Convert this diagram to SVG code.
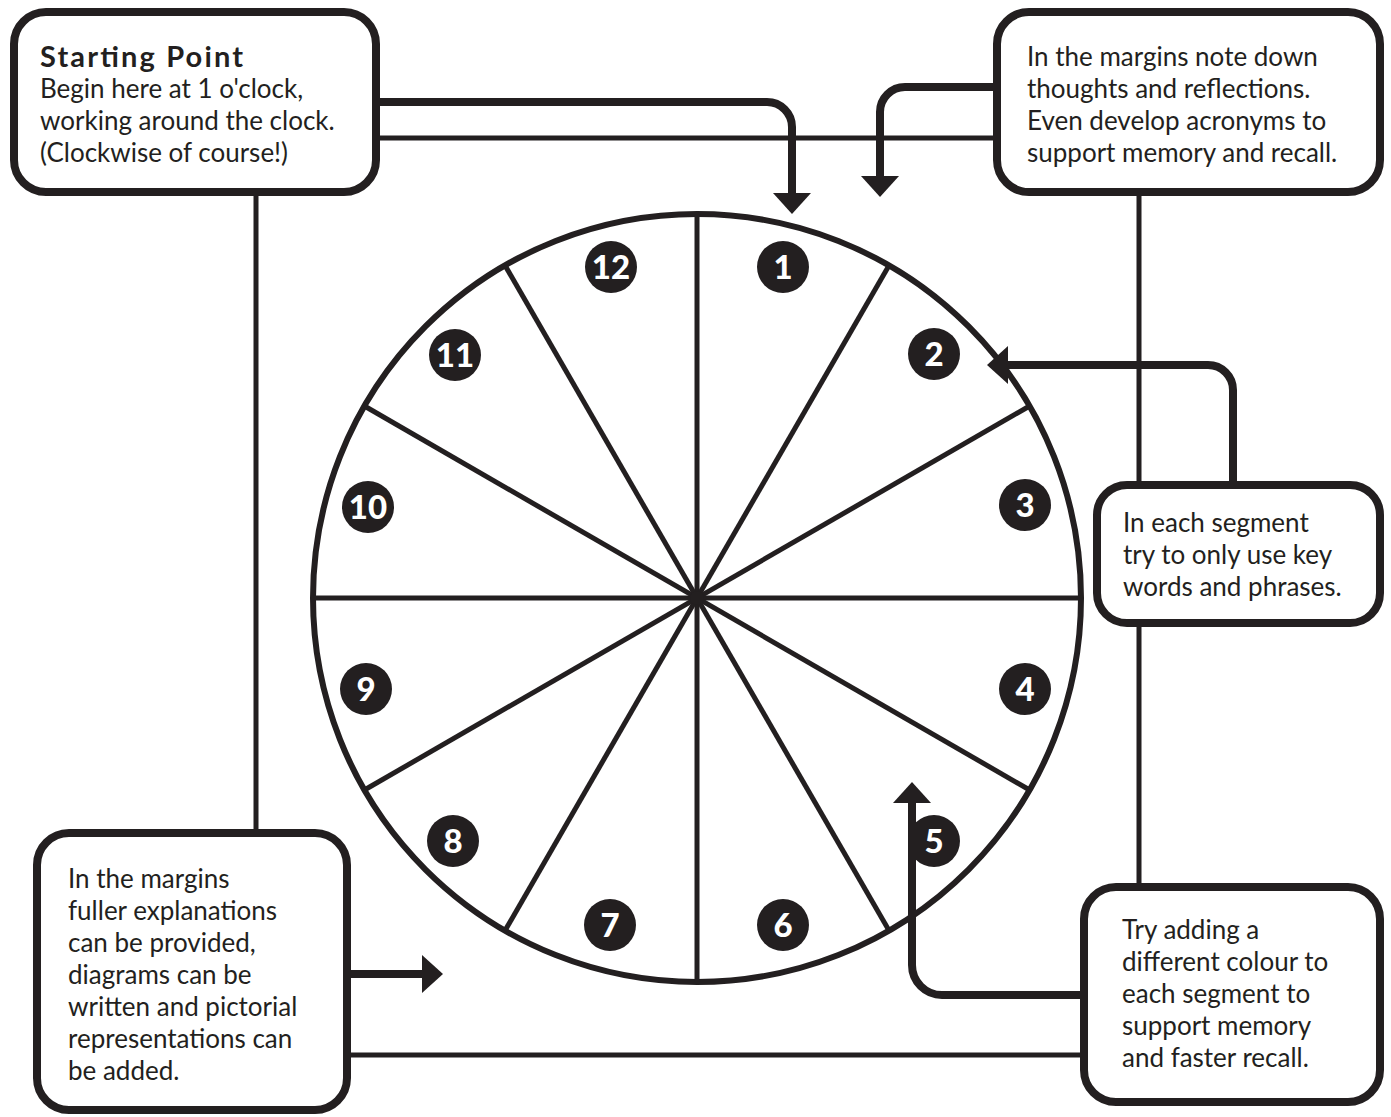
<svg xmlns="http://www.w3.org/2000/svg" width="1391" height="1117" viewBox="0 0 1391 1117">
<defs>
<style>
.ink{stroke:#231f20;fill:none}
.thick{stroke-width:8}
.thin{stroke-width:5}
.box{fill:#fff;stroke:#231f20;stroke-width:8}
.txt{font-family:Lato,"Open Sans",sans-serif;font-size:26px;fill:#231f20}
.bold{font-weight:bold;font-size:29px}
.badge circle{fill:#231f20}
.badge text{font-family:Lato,"Open Sans",sans-serif;font-weight:900;font-size:33px;fill:#fff;text-anchor:middle}
</style>
<marker id="ah" markerUnits="userSpaceOnUse" viewBox="0 0 21 38" refX="1" refY="19" markerWidth="21" markerHeight="38" orient="auto">
<path d="M0,0 L21,19 L0,38 Z" fill="#231f20"/>
</marker>
</defs>
<rect width="1391" height="1117" fill="#fff"/>
<g id="clock">
<circle cx="697" cy="598" r="384" class="ink" stroke-width="6"/>
<g class="ink" stroke-width="5">
<line x1="697" y1="214" x2="697" y2="982"/>
<line x1="889" y1="265.4" x2="505" y2="930.6"/>
<line x1="1029.6" y1="406" x2="364.4" y2="790"/>
<line x1="313" y1="598" x2="1081" y2="598"/>
<line x1="1029.6" y1="790" x2="364.4" y2="406"/>
<line x1="889" y1="930.6" x2="505" y2="265.4"/>
</g>
<circle cx="697" cy="598" r="7" fill="#231f20"/>
</g>
<g id="badges" class="badge">
<g id="n1"><circle cx="783" cy="267" r="26"/><text x="783" y="279">1</text></g>
<g id="n2"><circle cx="934" cy="354" r="26"/><text x="934" y="366">2</text></g>
<g id="n3"><circle cx="1025" cy="505" r="26"/><text x="1025" y="517">3</text></g>
<g id="n4"><circle cx="1025" cy="689" r="26"/><text x="1025" y="701">4</text></g>
<g id="n5"><circle cx="934" cy="841" r="26"/><text x="934" y="853">5</text></g>
<g id="n6"><circle cx="783" cy="925" r="26"/><text x="783" y="937">6</text></g>
<g id="n7"><circle cx="610" cy="925" r="26"/><text x="610" y="937">7</text></g>
<g id="n8"><circle cx="453" cy="841" r="26"/><text x="453" y="853">8</text></g>
<g id="n9"><circle cx="366" cy="689" r="26"/><text x="366" y="701">9</text></g>
<g id="n10"><circle cx="368" cy="507" r="26"/><text x="368" y="519">10</text></g>
<g id="n11"><circle cx="455" cy="355" r="26"/><text x="455" y="367">11</text></g>
<g id="n12"><circle cx="611" cy="267" r="26"/><text x="611" y="279">12</text></g>
</g>
<g id="connectors">
<g class="ink thin">
<path d="M380,138 H993"/>
<path d="M256,196 V829"/>
<path d="M1139,196 V883"/>
<path d="M351,1055 H1080"/>
</g>
<g class="ink thick">
<path d="M380,102 H767 A25,25 0 0 1 792,127 V194" marker-end="url(#ah)"/>
<path d="M993,87 H905 A25,25 0 0 0 880,112 V177" marker-end="url(#ah)"/>
<path d="M1233,481 V390 A25,25 0 0 0 1208,365 H1007" marker-end="url(#ah)"/>
<path d="M1080,995 H942 A30,30 0 0 1 912,965 V802" marker-end="url(#ah)"/>
<path d="M351,974 H423" marker-end="url(#ah)"/>
</g>
</g>
<g id="start-box">
<rect x="14" y="12" width="362" height="180" rx="32" class="box"/>
<text class="txt bold" x="40" y="67" textLength="203" lengthAdjust="spacing">Starting Point</text>
<text class="txt" x="40" y="98">Begin here at 1 o'clock,</text>
<text class="txt" x="40" y="130">working around the clock.</text>
<text class="txt" x="40" y="162">(Clockwise of course!)</text>
</g>
<g id="margins-notes-box">
<rect x="997" y="12" width="383" height="180" rx="32" class="box"/>
<text class="txt" x="1027" y="66">In the margins note down</text>
<text class="txt" x="1027" y="98">thoughts and reflections.</text>
<text class="txt" x="1027" y="130">Even develop acronyms to</text>
<text class="txt" x="1027" y="162">support memory and recall.</text>
</g>
<g id="segment-box">
<rect x="1097" y="485" width="283" height="138" rx="30" class="box"/>
<text class="txt" x="1123" y="532">In each segment</text>
<text class="txt" x="1123" y="564">try to only use key</text>
<text class="txt" x="1123" y="596">words and phrases.</text>
</g>
<g id="colour-box">
<rect x="1084" y="887" width="296" height="215" rx="32" class="box"/>
<text class="txt" x="1122" y="939">Try adding a</text>
<text class="txt" x="1122" y="971">different colour to</text>
<text class="txt" x="1122" y="1003">each segment to</text>
<text class="txt" x="1122" y="1035">support memory</text>
<text class="txt" x="1122" y="1067">and faster recall.</text>
</g>
<g id="explanations-box">
<rect x="37" y="833" width="310" height="277" rx="32" class="box"/>
<text class="txt" x="68" y="888">In the margins</text>
<text class="txt" x="68" y="920">fuller explanations</text>
<text class="txt" x="68" y="952">can be provided,</text>
<text class="txt" x="68" y="984">diagrams can be</text>
<text class="txt" x="68" y="1016">written and pictorial</text>
<text class="txt" x="68" y="1048">representations can</text>
<text class="txt" x="68" y="1080">be added.</text>
</g>
</svg>
